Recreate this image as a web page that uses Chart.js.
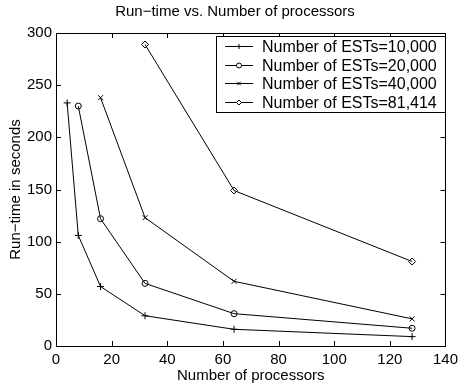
<!DOCTYPE html>
<html>
<head>
<meta charset="utf-8">
<script src="https://cdn.jsdelivr.net/npm/chart.js@4/dist/chart.umd.min.js"></script>
<style>
  html, body { margin: 0; padding: 0; background: #fff; }
  #wrap { width: 463px; height: 385px; }
</style>
</head>
<body>
<div id="wrap"><canvas id="runtimeChart" width="463" height="385"></canvas></div>
<script>
// processors (x) and run-time in seconds (y) per EST count
const procs10k = [4, 8, 16, 32, 64, 128];
const time10k  = [233, 106, 57, 29, 16, 9];
const procs20k = [8, 16, 32, 64, 128];
const time20k  = [230, 122, 60, 31, 17];
const procs40k = [16, 32, 64, 128];
const time40k  = [238, 123, 62, 26];
const procs81k = [32, 64, 128];
const time81k  = [289, 149, 81];

const seriesLabels = [
    'Number of ESTs=10,000',
    'Number of ESTs=20,000',
    'Number of ESTs=40,000',
    'Number of ESTs=81,414'
];
const xTicks = [0, 20, 40, 60, 80, 100, 120, 140];
const yTicks = [0, 50, 100, 150, 200, 250, 300];

const FONT = "'Liberation Sans', Arial, Helvetica, sans-serif";

const toPoints = (xs, ys) => xs.map((x, i) => ({ x: x, y: ys[i] }));

const makeSeries = (label, xs, ys, style) => ({
    label: label,
    data: toPoints(xs, ys),
    borderColor: '#000',
    backgroundColor: 'rgba(0,0,0,0)',
    borderWidth: 1,
    pointStyle: style,
    pointRadius: style === 'circle' ? 3 : 3.5,
    pointBorderColor: '#000',
    pointBackgroundColor: 'rgba(0,0,0,0)',
    pointBorderWidth: 1,
    fill: false,
    tension: 0
});

// MATLAB-like box, inward ticks and legend inside the axes
const matlabAxes = {
    id: 'matlabAxes',
    afterDraw(chart) {
        const { ctx, chartArea: a, scales } = chart;
        ctx.save();
        ctx.strokeStyle = '#000';
        ctx.lineWidth = 1;
        ctx.strokeRect(Math.round(a.left) + 0.5, Math.round(a.top) + 0.5,
            Math.round(a.right - a.left), Math.round(a.bottom - a.top));

        const len = 5;
        ctx.beginPath();
        xTicks.forEach(v => {
            const px = Math.round(scales.x.getPixelForValue(v)) + 0.5;
            ctx.moveTo(px, a.bottom); ctx.lineTo(px, a.bottom - len);
            ctx.moveTo(px, a.top); ctx.lineTo(px, a.top + len);
        });
        yTicks.forEach(v => {
            const py = Math.round(scales.y.getPixelForValue(v)) + 0.5;
            ctx.moveTo(a.left, py); ctx.lineTo(a.left + len, py);
            ctx.moveTo(a.right, py); ctx.lineTo(a.right - len, py);
        });
        ctx.stroke();

        // legend box
        const boxL = 216, boxT = 36, boxW = 229, rowH = 18.5;
        const boxH = rowH * chart.data.datasets.length + 2;
        ctx.fillStyle = '#fff';
        ctx.fillRect(boxL, boxT, boxW, boxH);
        ctx.strokeRect(boxL + 0.5, boxT + 0.5, boxW, boxH);
        ctx.font = '16px ' + FONT;
        ctx.textBaseline = 'middle';
        chart.data.datasets.forEach((ds, i) => {
            const cy = Math.round(boxT + 10 + i * rowH) + 0.5;
            ctx.beginPath();
            ctx.moveTo(boxL + 9, cy); ctx.lineTo(boxL + 37, cy);
            ctx.stroke();
            if (Chart.helpers && Chart.helpers.drawPoint) {
                Chart.helpers.drawPoint(ctx, {
                    pointStyle: ds.pointStyle, radius: 2.5, borderWidth: 1
                }, boxL + 23, cy);
            }
            ctx.fillStyle = '#000';
            ctx.fillText(ds.label, boxL + 46, cy + 1);
            ctx.fillStyle = '#fff';
        });
        ctx.restore();
    }
};

new Chart(document.getElementById('runtimeChart'), {
    type: 'line',
    data: {
        datasets: [
            makeSeries(seriesLabels[0], procs10k, time10k, 'cross'),
            makeSeries(seriesLabels[1], procs20k, time20k, 'circle'),
            makeSeries(seriesLabels[2], procs40k, time40k, 'crossRot'),
            makeSeries(seriesLabels[3], procs81k, time81k, 'rectRot')
        ]
    },
    options: {
        responsive: false,
        animation: false,
        layout: { padding: { left: 7, right: 0, top: 0, bottom: 0 } },
        scales: {
            x: {
                type: 'linear',
                min: 0, max: 140,
                afterBuildTicks: (s) => { s.ticks = xTicks.map(v => ({ value: v })); },
                grid: { display: false, drawTicks: false },
                border: { display: false },
                ticks: { color: '#000', font: { family: FONT, size: 15 }, padding: 5, maxRotation: 0 },
                title: {
                    display: true, text: 'Number of processors', color: '#000',
                    font: { family: FONT, size: 15 }, padding: { top: -7, bottom: 0 }
                }
            },
            y: {
                type: 'linear',
                min: 0, max: 300,
                afterBuildTicks: (s) => { s.ticks = yTicks.map(v => ({ value: v })); },
                grid: { display: false, drawTicks: false },
                border: { display: false },
                ticks: { color: '#000', font: { family: FONT, size: 15 }, padding: 4 },
                title: {
                    display: true, text: 'Run\u2212time in seconds', color: '#000',
                    font: { family: FONT, size: 15 }, padding: { top: 0, bottom: -2 }
                }
            }
        },
        plugins: {
            legend: { display: false },
            tooltip: { enabled: false },
            title: {
                display: true, text: 'Run\u2212time vs. Number of processors', color: '#000',
                font: { family: FONT, size: 15, weight: 'normal' }, padding: { top: 3, bottom: 12 }
            }
        }
    },
    plugins: [matlabAxes]
});
</script>
</body>
</html>
